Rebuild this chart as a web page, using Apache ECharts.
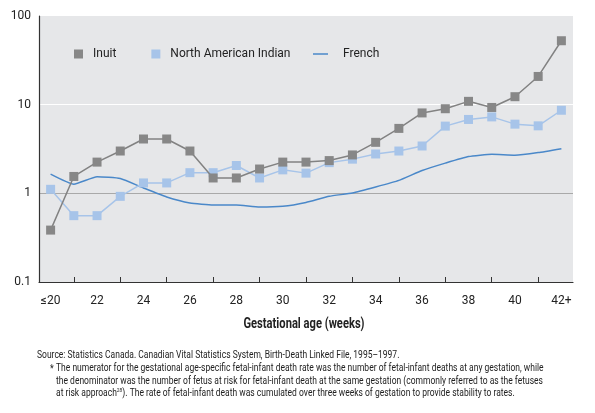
<!DOCTYPE html>
<html>
<head>
<meta charset="utf-8">
<script src="https://cdn.jsdelivr.net/npm/echarts@6/dist/echarts.min.js"></script>
<style>html,body{margin:0;padding:0;background:#fff;}#c{width:595px;height:413px;}</style>
</head>
<body>
<div id="c"></div>
<script>
const categories = ['≤20','21','22','23','24','25','26','27','28','29','30','31','32','33','34','35','36','37','38','39','40','41','42+'];
const inuit = [0.385,1.55,2.25,3.0,4.1,4.1,3.0,1.49,1.49,1.88,2.25,2.25,2.34,2.71,3.76,5.4,8.07,9.0,10.9,9.3,12.3,20.8,52.6];
const northAmericanIndian = [1.11,0.56,0.56,0.925,1.31,1.31,1.71,1.71,2.06,1.49,1.84,1.69,2.22,2.43,2.78,3.0,3.42,5.73,6.81,7.28,6.03,5.77,8.65];
const french = [1.65,1.27,1.54,1.47,1.15,0.91,0.78,0.74,0.74,0.70,0.715,0.79,0.925,1.01,1.18,1.40,1.81,2.19,2.6,2.76,2.69,2.88,3.19];
const yTicks = [0.1, 1, 10, 100];

const FONT = "'Liberation Sans Narrow', 'Roboto', sans-serif";
const NOTE = "10.5px 'Roboto', sans-serif";
const NOTE_SX = 0.81;
const chart = echarts.init(document.getElementById('c'));
chart.setOption({
  animation: false,
  backgroundColor: '#ffffff',
  textStyle: { fontFamily: FONT },
  grid: { left: 39, right: 22, top: 16, bottom: 131, show: true, backgroundColor: '#e6e7e9', borderWidth: 0 },
  legend: [
    {
      left: 69, top: 43, itemWidth: 9, itemHeight: 9, itemGap: 35,
      icon: 'rect',
      textStyle: { fontFamily: FONT, fontSize: 12, color: '#222', padding: [0, 0, 0, 5] },
      data: ['Inuit', 'North American Indian']
    },
    {
      left: 308, top: 43, itemWidth: 15, itemHeight: 1.5,
      icon: 'rect',
      textStyle: { fontFamily: FONT, fontSize: 12, color: '#222', padding: [0, 0, 0, 10] },
      data: ['French']
    }
  ],
  xAxis: {
    type: 'category',
    data: categories,
    boundaryGap: true,
    axisLine: { lineStyle: { color: '#333', width: 1.2 } },
    axisTick: { show: true, inside: true, length: 5, alignWithLabel: true, interval: function (i) { return i % 2 === 1; }, lineStyle: { color: '#333' } },
    axisLabel: { interval: function (i) { return i % 2 === 0; }, fontFamily: FONT, fontSize: 12, color: '#222', margin: 13 },
    splitLine: { show: false }
  },
  yAxis: {
    type: 'log',
    logBase: 10,
    min: yTicks[0],
    max: yTicks[yTicks.length - 1],
    axisLine: { show: true, lineStyle: { color: '#333', width: 1.2 } },
    axisTick: { show: false },
    axisLabel: { fontFamily: FONT, fontSize: 12, color: '#222', margin: 8, formatter: function (v) { return String(v); } },
    splitLine: { show: true, lineStyle: { color: ['#e6e7e9', '#a9a9a9', '#ffffff', '#e6e7e9'], width: 1 } },
    minorTick: { show: false }
  },
  series: [
    {
      name: 'Inuit', type: 'line', data: inuit,
      symbol: 'rect', symbolSize: 9, z: 3,
      itemStyle: { color: '#878787' },
      lineStyle: { color: '#828282', width: 1.5 }
    },
    {
      name: 'North American Indian', type: 'line', data: northAmericanIndian,
      symbol: 'rect', symbolSize: 9, z: 2,
      itemStyle: { color: '#a7c4e9' },
      lineStyle: { color: '#a7c4e9', width: 1.5 }
    },
    {
      name: 'French', type: 'line', data: french,
      symbol: 'none', smooth: 0.15, z: 1,
      itemStyle: { color: '#4a88c9' },
      lineStyle: { color: '#4a88c9', width: 1.5 }
    }
  ],
  graphic: [
    { type: 'text', x: 304, y: 324, scaleX: 0.77, style: { text: 'Gestational age (weeks)', font: "bold 14.5px 'Roboto', sans-serif", fill: '#222', align: 'center', verticalAlign: 'middle' } },
    { type: 'text', x: 37, y: 355, scaleX: NOTE_SX, style: { text: 'Source: Statistics Canada. Canadian Vital Statistics System, Birth-Death Linked File, 1995–1997.', font: NOTE, fill: '#222', verticalAlign: 'middle' } },
    { type: 'text', x: 50, y: 369, scaleX: NOTE_SX, style: { text: '*', font: NOTE, fill: '#222', verticalAlign: 'middle' } },
    { type: 'text', x: 56, y: 368, scaleX: NOTE_SX, style: { text: 'The numerator for the gestational age-specific fetal-infant death rate was the number of fetal-infant deaths at any gestation, while', font: NOTE, fill: '#222', verticalAlign: 'middle' } },
    { type: 'text', x: 56, y: 381, scaleX: NOTE_SX, style: { text: 'the denominator was the number of fetus at risk for fetal-infant death at the same gestation (commonly referred to as the fetuses', font: NOTE, fill: '#222', verticalAlign: 'middle' } },
    { type: 'text', x: 56, y: 393, scaleX: NOTE_SX, style: {
      text: 'at risk approach{sup|28}). The rate of fetal-infant death was cumulated over three weeks of gestation to provide stability to rates.',
      font: NOTE, fill: '#222', verticalAlign: 'middle',
      rich: { sup: { fontSize: 6, fontFamily: 'Roboto', verticalAlign: 'top', padding: [0, 0, 4, 0], fill: '#222' } }
    } }
  ]
});
</script>
</body>
</html>
